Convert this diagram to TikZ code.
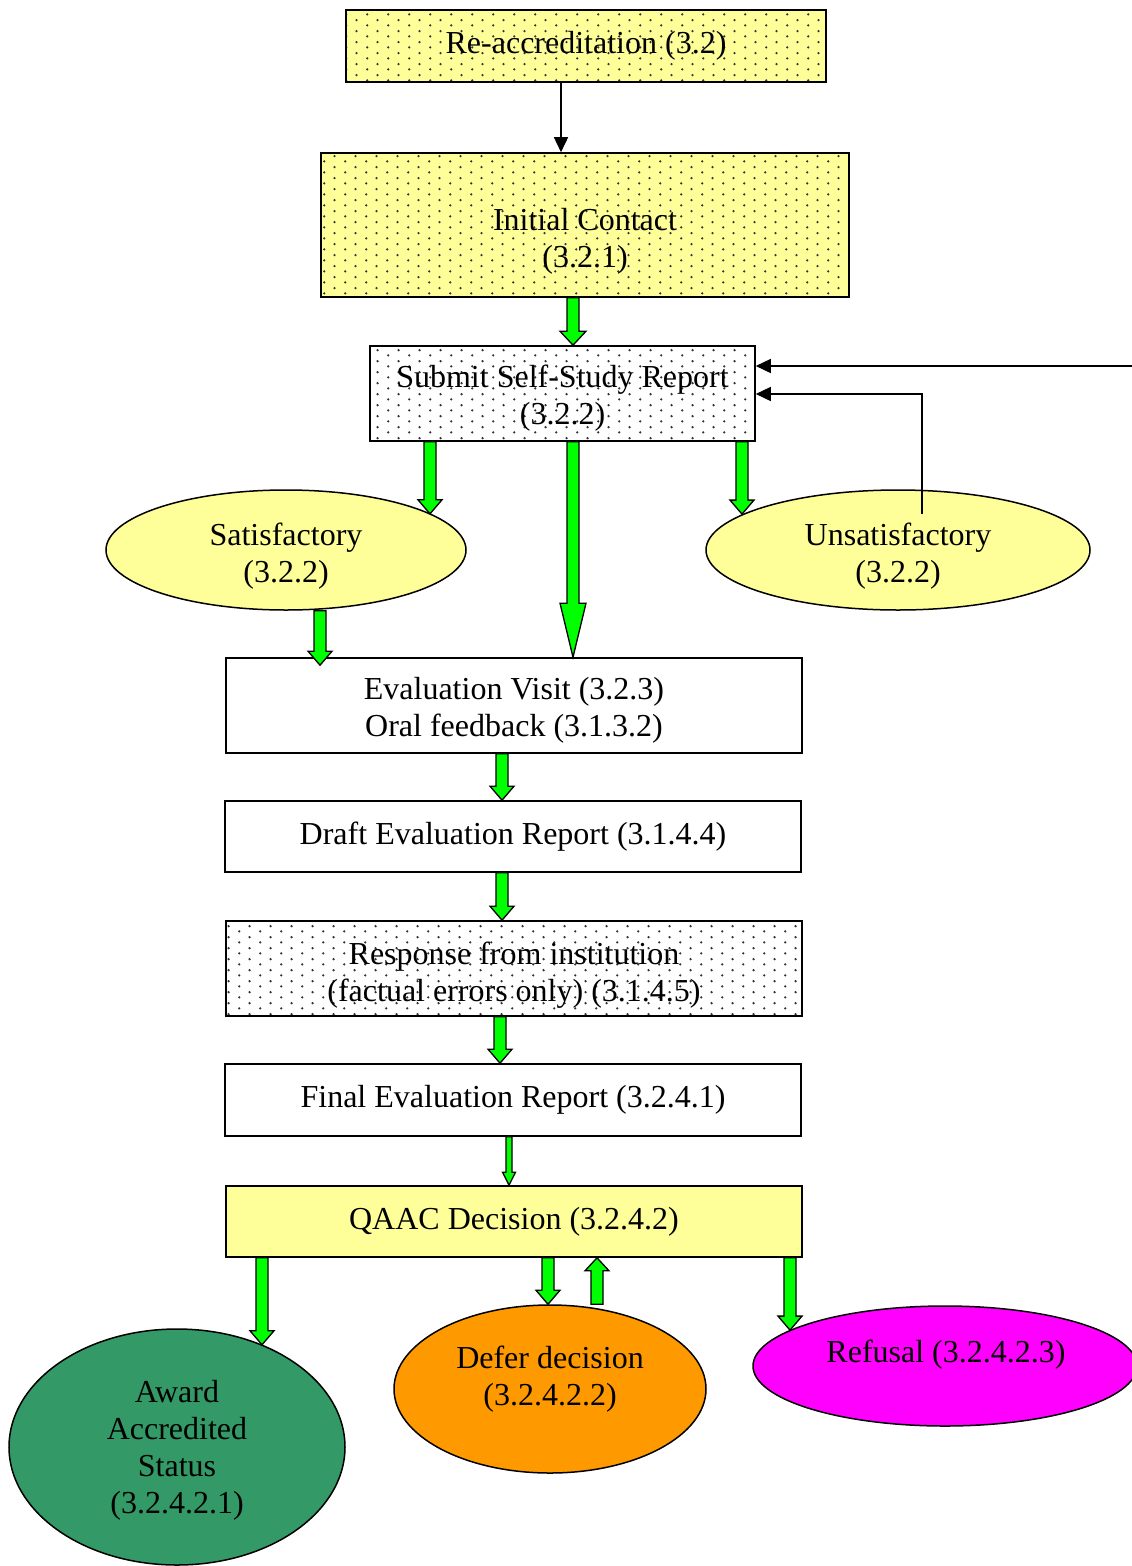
\documentclass[tikz,border=0pt]{standalone}
\usepackage{fontspec}
\setmainfont{Liberation Serif}
\usetikzlibrary{shapes.geometric,arrows.meta,patterns,calc}
\definecolor{lyellow}{HTML}{FFFF99}
\definecolor{agreen}{HTML}{00FF00}
\definecolor{dgreen}{HTML}{339966}
\definecolor{dorange}{HTML}{FF9900}
\definecolor{mag}{HTML}{FF00FF}
\pgfdeclarepatternformonly{mydots}{\pgfpointorigin}{\pgfpoint{21.33pt}{10.67pt}}{\pgfpoint{21.33pt}{10.67pt}}{%
  \pgfpathcircle{\pgfpoint{5.33pt}{2.67pt}}{1.3pt}%
  \pgfpathcircle{\pgfpoint{16pt}{8pt}}{1.3pt}%
  \pgfusepath{fill}}
\tikzset{
  txt/.style={font=\fontsize{32pt}{37pt}\selectfont, align=center},
  box/.style={draw, line width=1.6pt, rectangle, inner sep=0pt, txt},
  dotbox/.style={box, preaction={fill=#1}, pattern=mydots, pattern color=black!80},
  oval/.style={draw, line width=1.5pt, ellipse, inner sep=0pt, txt},
  blockarrow/.style={draw=black, fill=agreen, line width=1.3pt, line join=miter},
  thinarrow/.style={draw, line width=1.6pt, -{Triangle[length=15pt,width=14pt]}},
}
\newcommand\downblock[5]{\path[blockarrow] let \p1=(#1), \p2=(#2) in
  (\x1-#3,\y1) -- (\x1-#3,\y2+#5) -- (\x1-#4,\y2+#5) -- (\x1,\y2) -- (\x1+#4,\y2+#5) -- (\x1+#3,\y2+#5) -- (\x1+#3,\y1) -- cycle;}
\newcommand\upblock[5]{\path[blockarrow] let \p1=(#1), \p2=(#2) in
  (\x1-#3,\y1) -- (\x1-#3,\y2-#5) -- (\x1-#4,\y2-#5) -- (\x1,\y2) -- (\x1+#4,\y2-#5) -- (\x1+#3,\y2-#5) -- (\x1+#3,\y1) -- cycle;}
\begin{document}
\begin{tikzpicture}[x=1pt,y=-1pt]
\useasboundingbox[fill=white] (0,0) rectangle (1132,1566);

% boxes
\node[dotbox=lyellow, minimum width=480pt, minimum height=72pt] (re) at (586,46) {Re-accreditation (3.2)};
\node[dotbox=lyellow, minimum width=528pt, minimum height=144pt] (ic) at (585,225) {};
\node[txt] (ictext) at (585,241) {Initial Contact\\(3.2.1)};
\node[dotbox=white, minimum width=385pt, minimum height=95pt] (sub) at (562.5,393.5) {};
\node[txt] (subtext) at (562.5,398.5) {Submit Self-Study Report\\(3.2.2)};
\node[oval, fill=lyellow, minimum width=360pt, minimum height=120pt] (sat) at (286,550) {};
\node[txt] (sattext) at (286,556.5) {Satisfactory\\(3.2.2)};
\node[oval, fill=lyellow, minimum width=384pt, minimum height=120pt] (uns) at (898,550) {};
\node[txt] (unstext) at (898,556.5) {Unsatisfactory\\(3.2.2)};
\node[box, fill=white, minimum width=576pt, minimum height=95pt] (ev) at (514,705.5) {};
\node[txt] (evtext) at (514,710.5) {Evaluation Visit (3.2.3)\\Oral feedback (3.1.3.2)};
\node[box, fill=white, minimum width=576pt, minimum height=71pt] (dr) at (513,836.5) {Draft Evaluation Report (3.1.4.4)};
\node[dotbox=white, minimum width=576pt, minimum height=95pt] (rs) at (514,968.5) {};
\node[txt] (rstext) at (514,975.5) {Response from institution\\(factual errors only) (3.1.4.5)};
\node[box, fill=white, minimum width=576pt, minimum height=72pt] (fin) at (513,1100) {Final Evaluation Report (3.2.4.1)};
\node[box, fill=lyellow, minimum width=576pt, minimum height=71pt] (qa) at (514,1221.5) {QAAC Decision (3.2.4.2)};
\node[oval, fill=dgreen, minimum width=336pt, minimum height=236pt] (aw) at (177,1447) {};
\node[txt] (awtext) at (177,1450) {Award\\Accredited\\Status\\(3.2.4.2.1)};
\node[oval, fill=dorange, minimum width=312pt, minimum height=168pt] (def) at (550,1389) {};
\node[txt] (deftext) at (550,1379) {Defer decision\\(3.2.4.2.2)};
\node[oval, fill=mag, minimum width=384pt, minimum height=120pt] (ref) at (945,1366) {};
\node[txt] (reftext) at (946,1355) {Refusal (3.2.4.2.3)};

% thin black connectors
\draw[thinarrow] (561,0 |- re.south) -- (561,0 |- ic.north);
\coordinate (rin) at (1132,366);
\draw[thinarrow] (rin) -- (sub.east |- rin);
\coordinate (ustart) at (922,514);
\coordinate (fbc) at (922,394);
\draw[thinarrow] (ustart) -- (fbc) -- (sub.east |- fbc);

% green block arrows
\downblock{573,0 |- ic.south}{573,0 |- sub.north}{6pt}{13pt}{14pt}
\downblock{430,0 |- sub.south}{sat.14}{6pt}{12pt}{14pt}
\downblock{573,0 |- sub.south}{573,0 |- ev.north}{6pt}{13pt}{54pt}
\downblock{742,0 |- sub.south}{uns.167}{6pt}{12pt}{14pt}
\downblock{320,0 |- sat.south}{[yshift=-8pt]ev.north}{6pt}{12pt}{14pt}
\downblock{502,0 |- ev.south}{502,0 |- dr.north}{6pt}{12pt}{14pt}
\downblock{502,0 |- dr.south}{502,0 |- rs.north}{6pt}{12pt}{14pt}
\downblock{500,0 |- rs.south}{500,0 |- fin.north}{6pt}{12pt}{14pt}
\downblock{509,0 |- fin.south}{509,0 |- qa.north}{3pt}{6.5pt}{13pt}
\downblock{262,0 |- qa.south}{aw.50}{6pt}{12pt}{14pt}
\downblock{548,0 |- qa.south}{def.north}{6pt}{12pt}{14pt}
\upblock{597,0 |- def.north}{597,0 |- qa.south}{6pt}{12pt}{13pt}
\downblock{790,0 |- qa.south}{ref.167}{6pt}{12pt}{14pt}
\end{tikzpicture}
\end{document}
